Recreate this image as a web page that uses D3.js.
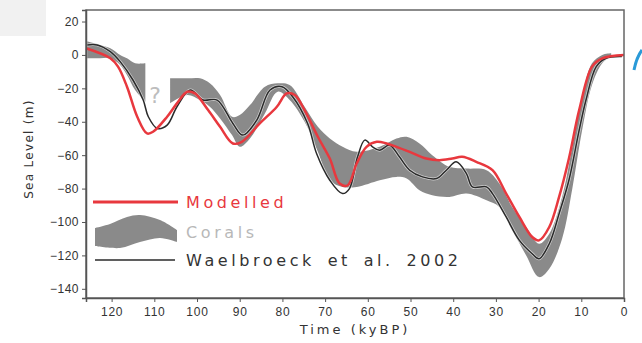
<!DOCTYPE html>
<html lang="en">
<head>
<meta charset="UTF-8">
<script src="https://d3js.org/d3.v7.min.js"></script>
<style>
  body { margin: 0; background: #fff; }
  svg { display: block; font-family: "DejaVu Sans", sans-serif; }
  .tick text { fill: #333; font-size: 12px; }
  .tick line, .domain { stroke: #555; }
</style>
</head>
<body>
<div id="chart"></div>
<script>
// Modelled sea level (red)
const modelTime  = [126, 120.3, 118.5, 116.4, 114, 111.7, 110.3, 107, 104.7, 102.3, 100.5, 97.4, 94.6, 91.6, 89.5, 85.3, 81.3, 79, 77.1, 74.8, 71.7, 68.9, 66.6, 64.7, 62.6, 60.3, 57.9, 55.6, 53.3, 50.2, 46.3, 43.2, 40.2, 37.9, 34.6, 30.8, 27.6, 24.5, 21.5, 19.9, 17.5, 15.2, 12.9, 10.5, 7.5, 5.1, 0];
const modelLevel = [4, -2, -7, -19, -37, -47, -46, -37, -29, -22, -23, -33, -43, -53, -52, -41, -31, -23, -24, -33, -49, -62, -77, -78, -65, -55, -52, -53, -55, -58, -62, -63, -62, -61, -64, -69, -83, -97, -109, -111, -103, -85, -62, -33, -7, -2, 0];

// Waelbroeck et al. 2002 (black)
const waelTime  = [125.7, 123.4, 120.3, 118, 115, 112.6, 111.4, 109.3, 107, 104.7, 101.6, 98.6, 95.3, 91.6, 89.3, 86, 82.9, 80.1, 77.6, 74.1, 72, 68.9, 65.9, 64.3, 62.4, 60.7, 58.9, 57.2, 54.9, 52.6, 50.2, 47.2, 43.9, 41.6, 39.3, 36.9, 35.5, 32.2, 30.8, 27.6, 24.5, 21.5, 19.9, 17.5, 15.2, 12.9, 10.5, 8.9, 6.5, 4.2, 0.5];
const waelLevel = [6, 6, 2, -4, -15, -27, -37, -44, -42, -31, -21, -27, -27, -41, -48, -39, -21, -19, -25, -41, -59, -75, -83, -80, -61, -51, -55, -57, -54, -61, -69, -73, -74, -69, -64, -71, -79, -79, -83, -97, -111, -119, -122, -113, -95, -75, -45, -27, -7, -2, -1];

// Corals envelope, two pieces (gap around 110 ky)
const coralTimeA = [125.7, 122.7, 120.3, 118, 116.4, 114.5, 112.1];
const coralHiA   = [8, 6, 4, 0, -2, -5, -5];
const coralLoA   = [-2, -2, -2, -6, -12, -21, -28];
const coralTimeB = [106.3, 102.3, 99.3, 97, 94.6, 91.8, 90, 87.6, 84.1, 81.1, 78.3, 74.8, 71.7, 68.9, 65.9, 62.6, 57.2, 53.3, 50.9, 47.9, 44.9, 40.9, 36.9, 32.2, 29.2, 26.2, 22.9, 19.9, 17.5, 14.5, 12.1, 9.8, 7.5, 5.1, 3];
const coralHiB   = [-14, -14, -14, -17, -24, -37, -36, -30, -19, -17, -18, -31, -43, -50, -55, -58, -55, -50, -49, -53, -60, -67, -68, -69, -77, -91, -103, -113, -107, -85, -55, -25, -5, 0, 1];
const coralLoB   = [-29, -24, -27, -31, -38, -48, -55, -50, -35, -22, -27, -40, -58, -75, -79, -79, -75, -73, -74, -81, -84, -85, -83, -87, -91, -105, -120, -133, -128, -110, -80, -45, -18, -5, -1];

const xTicks = [120, 110, 100, 90, 80, 70, 60, 50, 40, 30, 20, 10, 0];
const yTicks = [20, 0, -20, -40, -60, -80, -100, -120, -140];

const W = 642, H = 343;
const pLeft = 86, pRight = 624, pTop = 10, pBottom = 298;

const svg = d3.select("#chart").append("svg")
    .attr("width", W).attr("height", H);

// faded background bits from the slide
svg.append("rect").attr("x", 0).attr("y", 0).attr("width", 46).attr("height", 36)
    .attr("fill", "#f1f1f1");
svg.append("path")
    .attr("d", "M634,70 C636,60 639,54 642,50")
    .attr("fill", "none").attr("stroke", "#2a9ad8").attr("stroke-width", 3);

const x = d3.scaleLinear().domain([126, 0]).range([pLeft, pRight]);
const y = d3.scaleLinear().domain([-145.5, 26.9]).range([pBottom, pTop]);

const zip = (t, v) => t.map((d, i) => [d, v[i]]);
const band = (t, hi, lo) => t.map((d, i) => ({t: d, hi: hi[i], lo: lo[i]}));

const area = d3.area()
    .x(d => x(d.t)).y0(d => y(d.lo)).y1(d => y(d.hi))
    .curve(d3.curveCatmullRom);

[band(coralTimeA, coralHiA, coralLoA), band(coralTimeB, coralHiB, coralLoB)].forEach(b => {
  svg.append("path").datum(b).attr("d", area).attr("fill", "#8a8a8a");
});

const line = d3.line().x(d => x(d[0])).y(d => y(d[1])).curve(d3.curveCatmullRom);

svg.append("path").datum(zip(waelTime, waelLevel))
    .attr("d", line).attr("fill", "none")
    .attr("stroke", "#fff").attr("stroke-width", 3).attr("opacity", 0.6);
svg.append("path").datum(zip(waelTime, waelLevel))
    .attr("d", line).attr("fill", "none")
    .attr("stroke", "#2a2a2a").attr("stroke-width", 1.5);

svg.append("path").datum(zip(modelTime, modelLevel))
    .attr("d", line).attr("fill", "none")
    .attr("stroke", "#e8383e").attr("stroke-width", 2.5);

// frame
svg.append("rect")
    .attr("x", pLeft).attr("y", pTop)
    .attr("width", pRight - pLeft).attr("height", pBottom - pTop)
    .attr("fill", "none").attr("stroke", "#666").attr("stroke-width", 1.5);

svg.append("g")
    .attr("transform", `translate(0,${pBottom})`)
    .call(d3.axisBottom(x).tickValues(xTicks).tickSize(4).tickPadding(5).tickFormat(d3.format("d")))
    .call(g => g.selectAll("text").attr("letter-spacing", 0.8));

svg.append("g")
    .attr("transform", `translate(${pLeft},0)`)
    .call(d3.axisLeft(y).tickValues(yTicks).tickSize(4).tickPadding(3)
      .tickFormat(d => d < 0 ? "\u2212" + Math.abs(d) : d))
    .call(g => g.selectAll("text").attr("letter-spacing", 0.5));

svg.selectAll(".domain").attr("stroke-width", 1.5);

// axis titles
svg.append("text")
    .attr("transform", "translate(33,149) rotate(-90)")
    .attr("text-anchor", "middle").attr("font-size", 12).attr("letter-spacing", 1.3)
    .attr("fill", "#333").text("Sea Level (m)");

svg.append("text")
    .attr("x", 355).attr("y", 334)
    .attr("text-anchor", "middle").attr("font-size", 13).attr("letter-spacing", 3)
    .attr("fill", "#333").text("Time (kyBP)");

// question mark in the gap
svg.append("text")
    .attr("x", 155).attr("y", 103).attr("text-anchor", "middle")
    .attr("font-size", 22).attr("fill", "#bdbdbd").text("?");

// legend
const lg = svg.append("g")
    .attr("font-size", 16).attr("letter-spacing", 3.6).attr("word-spacing", 4);
lg.append("line").attr("x1", 93).attr("x2", 178).attr("y1", 202).attr("y2", 202)
    .attr("stroke", "#e8383e").attr("stroke-width", 3);
lg.append("text").attr("x", 186).attr("y", 208)
    .attr("fill", "#e8383e").text("Modelled");

const blobTop = [[95, 228], [110, 224], [127, 217], [140, 215], [160, 220], [177, 230]];
const blobBot = [[177, 242], [160, 238], [140, 242], [120, 248], [95, 246]];
lg.append("path")
    .attr("d", d3.line().curve(d3.curveCatmullRom)(blobTop) + "L" +
      d3.line().curve(d3.curveCatmullRom)(blobBot).slice(1) + "Z")
    .attr("fill", "#8a8a8a");
lg.append("text").attr("x", 186).attr("y", 238)
    .attr("fill", "#b8b8b8").text("Corals");

lg.append("line").attr("x1", 95).attr("x2", 175).attr("y1", 260).attr("y2", 260)
    .attr("stroke", "#2a2a2a").attr("stroke-width", 1.5);
lg.append("text").attr("x", 186).attr("y", 266)
    .attr("fill", "#333").text("Waelbroeck et al. 2002");
</script>
</body>
</html>
